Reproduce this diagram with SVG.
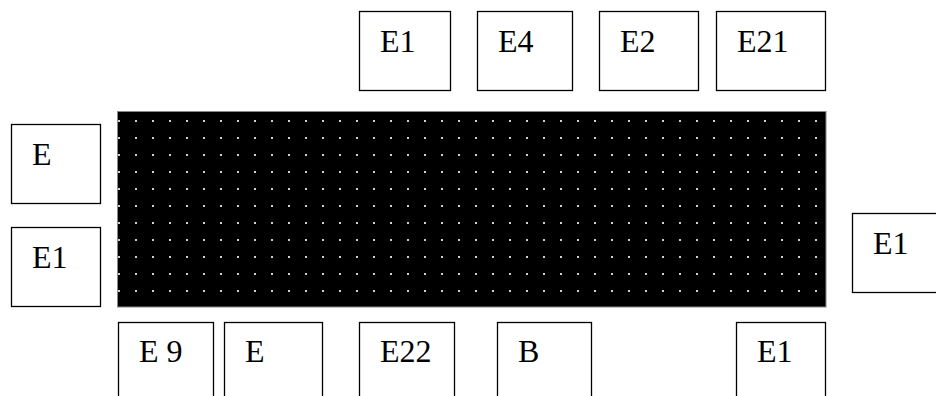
<svg xmlns="http://www.w3.org/2000/svg" width="936" height="396" viewBox="0 0 936 396">
<style>
.box{fill:#fff;stroke:#000;stroke-width:1.3}
.lbl{font-size:32px;fill:#000}
</style>
<defs>
<pattern id="dots" patternUnits="userSpaceOnUse" x="118" y="120" width="17" height="17">
<rect x="0" y="0" width="2" height="2" fill="#d0d0d0"/>
</pattern>
</defs>
<rect width="936" height="396" fill="#fff"/>
<g id="panel">
<rect x="117.5" y="111.5" width="708.5" height="195.5" fill="#000" stroke="#888" stroke-width="1"/>
<rect x="118" y="120" width="700" height="173" fill="url(#dots)"/>
</g>
<g id="connectors"></g>
<g font-family="'Liberation Serif', 'Times New Roman', Times, serif">
<g id="top-E1"><rect class="box" x="359.5" y="11.5" width="91" height="79"/><text class="lbl" x="380" y="52">E1</text></g>
<g id="top-E4"><rect class="box" x="477.5" y="11.5" width="95" height="79"/><text class="lbl" x="498" y="52">E4</text></g>
<g id="top-E2"><rect class="box" x="599.5" y="11.5" width="99" height="79"/><text class="lbl" x="620" y="52">E2</text></g>
<g id="top-E21"><rect class="box" x="716.5" y="11.5" width="109" height="79"/><text class="lbl" x="737" y="52">E21</text></g>
<g id="left-E"><rect class="box" x="11.5" y="124.5" width="89" height="79"/><text class="lbl" x="32" y="165">E</text></g>
<g id="left-E1"><rect class="box" x="11.5" y="227.5" width="89" height="79"/><text class="lbl" x="32" y="268">E1</text></g>
<g id="right-E1"><rect class="box" x="852.5" y="213.5" width="95" height="79"/><text class="lbl" x="873" y="254">E1</text></g>
<g id="bottom-E9"><rect class="box" x="118.5" y="322.5" width="95" height="80"/><text class="lbl" x="139" y="362">E 9</text></g>
<g id="bottom-E"><rect class="box" x="224.5" y="322.5" width="98" height="80"/><text class="lbl" x="245" y="362">E</text></g>
<g id="bottom-E22"><rect class="box" x="359.5" y="322.5" width="95" height="80"/><text class="lbl" x="380" y="362">E22</text></g>
<g id="bottom-B"><rect class="box" x="497.5" y="322.5" width="94" height="80"/><text class="lbl" x="518" y="362">B</text></g>
<g id="bottom-E1"><rect class="box" x="736.5" y="322.5" width="89" height="80"/><text class="lbl" x="757" y="362">E1</text></g>
</g>
</svg>
